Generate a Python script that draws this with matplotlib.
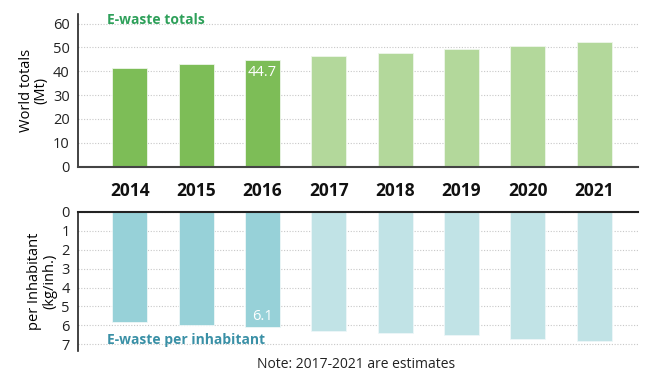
import matplotlib.pyplot as plt
import numpy as np

plt.rcParams["font.family"] = ["Open Sans", "DejaVu Sans"]

years = ["2014", "2015", "2016", "2017", "2018", "2019", "2020", "2021"]
totals_mt = [41.2, 43.1, 44.7, 46.3, 47.7, 49.3, 50.6, 52.2]
per_inhabitant = [5.8, 6.0, 6.1, 6.3, 6.4, 6.5, 6.7, 6.8]
is_estimate = [False, False, False, True, True, True, True, True]

top_colors = ["#b3d89b" if e else "#7dbd57" for e in is_estimate]
bot_colors = ["#c1e3e6" if e else "#97d1d8" for e in is_estimate]

fig = plt.figure(figsize=(6.5, 3.9), dpi=100)
# axes positions in figure fractions (pixel coords / size)
ax_top = fig.add_axes([78 / 650, 1 - 166.7 / 390, (638 - 78) / 650, (166.7 - 14) / 390])
ax_bot = fig.add_axes([78 / 650, 1 - 351 / 390, (638 - 78) / 650, (351 - 211.7) / 390])

x = np.arange(len(years))
w = 0.53
grid_kw = dict(color="#c8c8c8", linestyle=(0, (1, 1.5)), linewidth=0.8)

# Top panel: world totals
ax_top.bar(x, totals_mt, w, color=top_colors, edgecolor="#eef6ea", linewidth=0.6, zorder=2)
ax_top.set_ylim(0, 64)
ax_top.set_xlim(-0.78, 7.66)
ax_top.set_yticks(range(0, 61, 10))
ax_top.yaxis.grid(True, **grid_kw)
ax_top.set_axisbelow(True)
ax_top.set_xticks([])
for s in ["top", "right"]:
    ax_top.spines[s].set_visible(False)
ax_top.spines["left"].set_color("#222222")
ax_top.spines["left"].set_linewidth(1.2)
ax_top.spines["bottom"].set_color("#444444")
ax_top.spines["bottom"].set_linewidth(1.5)
ax_top.tick_params(axis="y", length=0, labelsize=10.5, pad=6, colors="#222222")
ax_top.set_ylabel("World totals\n(Mt)", fontsize=10.5, linespacing=1.0, labelpad=3)
ax_top.text(2, totals_mt[2] - 2.0, f"{totals_mt[2]}", ha="center", va="top",
            color="white", fontsize=10.5)
ax_top.text(-0.34, 61.5, "E-waste totals", color="#2ea05a", fontsize=10,
            fontweight="bold", va="center", ha="left")

# Bottom panel: per inhabitant (inverted)
ax_bot.bar(x, per_inhabitant, w, color=bot_colors, edgecolor="#eef7f8", linewidth=0.6, zorder=2)
ax_bot.set_ylim(7.35, 0)
ax_bot.set_xlim(-0.78, 7.66)
ax_bot.set_yticks(range(0, 8))
ax_bot.yaxis.grid(True, **grid_kw)
ax_bot.set_axisbelow(True)
ax_bot.set_xticks([])
for s in ["bottom", "right"]:
    ax_bot.spines[s].set_visible(False)
ax_bot.spines["left"].set_color("#222222")
ax_bot.spines["left"].set_linewidth(1.2)
ax_bot.spines["top"].set_color("#222222")
ax_bot.spines["top"].set_linewidth(1.5)
ax_bot.tick_params(axis="y", length=0, labelsize=10.5, pad=6, colors="#222222")
ax_bot.set_ylabel("per Inhabitant\n(kg/inh.)", fontsize=10.5, linespacing=1.0, labelpad=3)
ax_bot.text(2, per_inhabitant[2] - 0.2, f"{per_inhabitant[2]}", ha="center", va="bottom",
            color="white", fontsize=10.5)
ax_bot.text(-0.34, 6.75, "E-waste per inhabitant", color="#3a90a6", fontsize=10,
            fontweight="bold", va="center", ha="left")

# Year labels between the panels
for xi, yr in zip(x, years):
    fig.text((78 + (xi + 0.78) * (560 / 8.44)) / 650, 1 - 191.5 / 390, yr,
             ha="center", va="center", fontsize=12.5, fontweight="bold", color="#111111")

fig.text(356 / 650, 1 - 364 / 390, "Note: 2017-2021 are estimates", ha="center",
         va="center", fontsize=10, color="#222222")

fig.savefig("out.png", dpi=100)
